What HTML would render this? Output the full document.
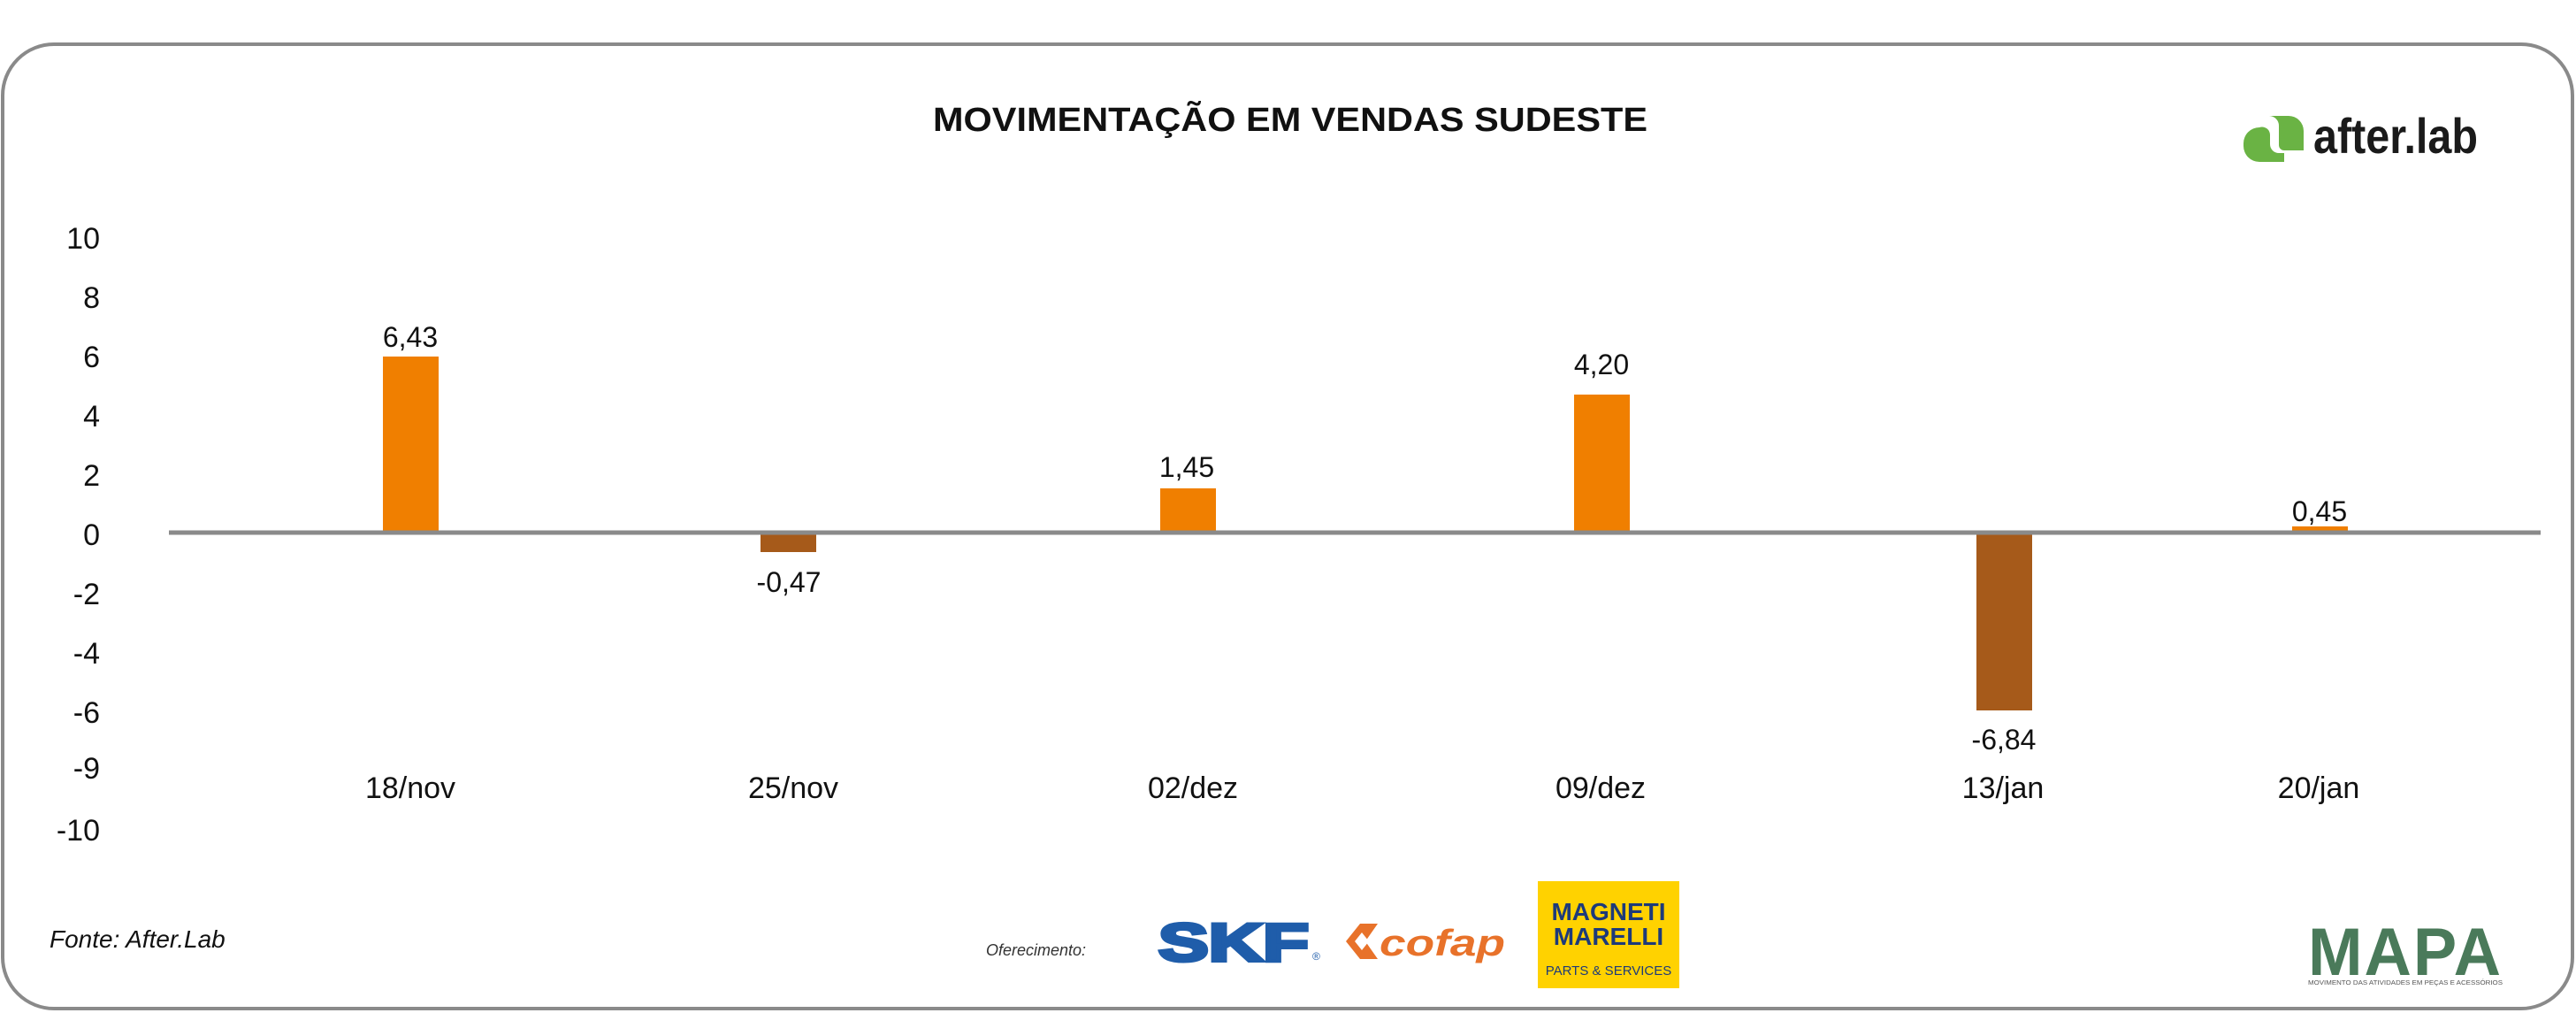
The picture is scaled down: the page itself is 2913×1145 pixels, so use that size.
<!DOCTYPE html>
<html><head><meta charset="utf-8"><style>
html,body{margin:0;padding:0;background:#fff;}
svg{display:block}
</style></head><body>
<svg width="2913" height="1145" viewBox="0 0 2913 1145" xmlns="http://www.w3.org/2000/svg">
<rect x="0" y="0" width="2913" height="1145" fill="#fff"/>
<rect x="3" y="50" width="2906" height="1090" rx="58" ry="58" fill="#fff" stroke="#8a8a8a" stroke-width="4"/>
<text x="1459" y="148" text-anchor="middle" font-family="Liberation Sans, sans-serif" font-weight="bold" font-size="38" fill="#111" textLength="808" lengthAdjust="spacingAndGlyphs">MOVIMENTAÇÃO EM VENDAS SUDESTE</text>
<!-- after.lab logo -->
<g fill="#6ab344">
<path d="M2560 131 h28 a17 17 0 0 1 17 17 v22 h-22 a6 6 0 0 1 -6 -6 v-22 a11 11 0 0 0 -11 -11z"/>
<path d="M2555 144 a18 18 0 0 0 -18 18 v3 a18 18 0 0 0 18 18 h28 v-10 h-6 a10 10 0 0 1 -10 -10 v-10 a9 9 0 0 0 -12 -9z"/>
</g>
<text x="2616" y="173" font-family="Liberation Sans, sans-serif" font-weight="bold" font-size="56" fill="#1a1a1a" textLength="186" lengthAdjust="spacingAndGlyphs">after.lab</text>
<g font-family="Liberation Sans Narrow, Liberation Sans, sans-serif" font-size="34" fill="#111" text-anchor="end">
<text x="113" y="281">10</text><text x="113" y="348">8</text><text x="113" y="415">6</text><text x="113" y="482">4</text><text x="113" y="549">2</text><text x="113" y="616">0</text><text x="113" y="683">-2</text><text x="113" y="750">-4</text><text x="113" y="817">-6</text><text x="113" y="880">-9</text><text x="113" y="950">-10</text>
</g>
<g>
<rect x="433" y="403" width="63" height="199" fill="#f07f00"/>
<rect x="860" y="602" width="63" height="22" fill="#a65a1a"/>
<rect x="1312" y="552" width="63" height="50" fill="#f07f00"/>
<rect x="1780" y="446" width="63" height="156" fill="#f07f00"/>
<rect x="2235" y="602" width="63" height="201" fill="#a65a1a"/>
<rect x="2592" y="595" width="63" height="7" fill="#f07f00"/>
</g>
<line x1="191" y1="602" x2="2873" y2="602" stroke="#8a8a8a" stroke-width="5"/>
<g font-family="Liberation Sans Narrow, Liberation Sans, sans-serif" font-size="32" fill="#111" text-anchor="middle">
<text x="464" y="392">6,43</text><text x="892" y="669">-0,47</text><text x="1342" y="539">1,45</text><text x="1811" y="423">4,20</text><text x="2266" y="847">-6,84</text><text x="2623" y="589">0,45</text>
</g>
<g font-family="Liberation Sans Narrow, Liberation Sans, sans-serif" font-size="34" fill="#111" text-anchor="middle">
<text x="464" y="902">18/nov</text><text x="897" y="902">25/nov</text><text x="1349" y="902">02/dez</text><text x="1810" y="902">09/dez</text><text x="2265" y="902">13/jan</text><text x="2622" y="902">20/jan</text>
</g>
<text x="56" y="1071" font-family="Liberation Sans, sans-serif" font-style="italic" font-size="28" fill="#111">Fonte: After.Lab</text>
<text x="1115" y="1080" font-family="Liberation Sans, sans-serif" font-style="italic" font-size="18" fill="#333">Oferecimento:</text>
<text x="1310" y="1086" font-family="Liberation Sans, sans-serif" font-weight="bold" font-size="60" fill="#1f5daa" stroke="#1f5daa" stroke-width="4" textLength="170" lengthAdjust="spacingAndGlyphs">SKF</text>
<text x="1484" y="1085" font-family="Liberation Sans, sans-serif" font-size="12" fill="#1f5daa">®</text>
<path d="M1522 1064 l16 -20 h20 l-14 20 l14 20 h-20z" fill="#e8722a"/>
<path d="M1532 1064 l8 -10 l8 10 l-8 10z" fill="#fff"/>
<text x="1560" y="1080" font-family="Liberation Sans, sans-serif" font-weight="bold" font-style="italic" font-size="42" fill="#e8722a" textLength="142" lengthAdjust="spacingAndGlyphs">cofap</text>
<rect x="1739" y="996" width="160" height="121" fill="#ffd200"/>
<text x="1819" y="1040" text-anchor="middle" font-family="Liberation Sans, sans-serif" font-weight="bold" font-size="28" fill="#1d3a7a">MAGNETI</text>
<text x="1819" y="1068" text-anchor="middle" font-family="Liberation Sans, sans-serif" font-weight="bold" font-size="28" fill="#1d3a7a">MARELLI</text>
<text x="1819" y="1102" text-anchor="middle" font-family="Liberation Sans, sans-serif" font-size="15" fill="#1d3a7a">PARTS &amp; SERVICES</text>
<text x="2720" y="1102" text-anchor="middle" font-family="Liberation Sans, sans-serif" font-weight="bold" font-size="76" fill="#4a7a5a" letter-spacing="2" textLength="220" lengthAdjust="spacingAndGlyphs">MAPA</text>
<text x="2720" y="1113" text-anchor="middle" font-family="Liberation Sans, sans-serif" font-size="7" fill="#555" textLength="220" lengthAdjust="spacingAndGlyphs">MOVIMENTO DAS ATIVIDADES EM PEÇAS E ACESSÓRIOS</text>
</svg>
</body></html>
